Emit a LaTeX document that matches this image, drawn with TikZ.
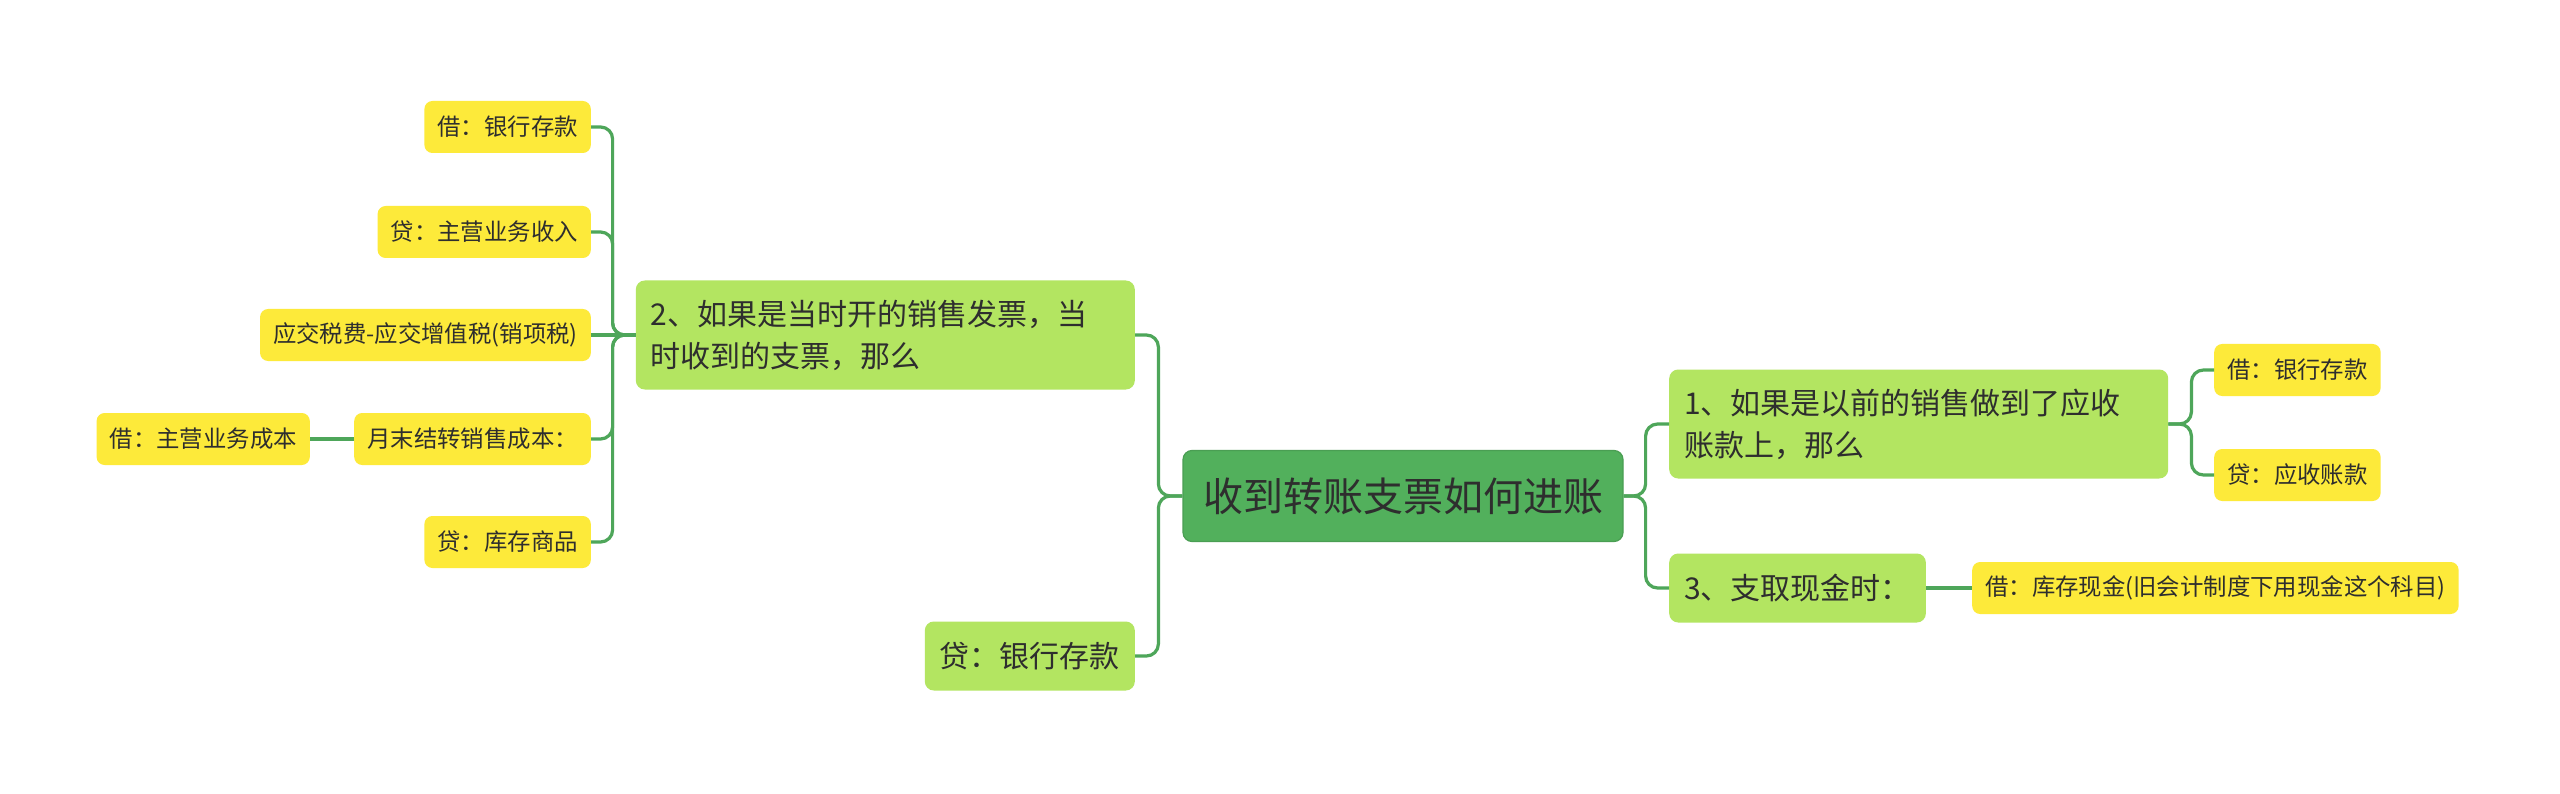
\documentclass[tikz,border=0pt]{standalone}
\usepackage{fontspec}
\setmainfont{Noto Sans CJK SC}
\definecolor{root}{HTML}{52B05C}
\definecolor{rootb}{HTML}{4A9E53}
\definecolor{lg}{HTML}{B3E561}
\definecolor{yl}{HTML}{FDEA3A}
\definecolor{ln}{HTML}{4EA65A}
\definecolor{tx}{HTML}{2E2E2E}
\begin{document}
\begin{tikzpicture}[x=1pt,y=-1pt,
 rootn/.style={draw=rootb, line width=1.2pt, fill=root, rounded corners=9pt, text=tx, font=\fontsize{40}{48}\selectfont, inner xsep=20pt, minimum height=91pt},
 lone/.style={fill=lg, rounded corners=9pt, text=tx, font=\fontsize{30}{42}\selectfont, inner xsep=15pt, inner ysep=0pt},
 ltwo/.style={fill=yl, rounded corners=8pt, text=tx, font=\fontsize{23.4}{28}\selectfont, inner xsep=13pt, inner ysep=0pt, minimum height=52pt},
 conn/.style={draw=ln, line width=3.2pt, rounded corners=12pt}]
\fill[white] (0,0) rectangle (2560,794);
\useasboundingbox (0,0) rectangle (2560,794);

\node[rootn] (root) at (1403,496) {收到转账支票如何进账};

\node[lone, anchor=east, text width=469pt, align=left, minimum height=109pt] (n2) at (1135,335) {2、如果是当时开的销售发票，当\\时收到的支票，那么};
\node[lone, anchor=east, minimum height=69pt] (n4) at (1135,656) {贷：银行存款};
\node[lone, anchor=west, text width=469pt, align=left, minimum height=109pt] (n1) at (1669,424) {1、如果是以前的销售做到了应收\\账款上，那么};
\node[lone, anchor=west, minimum height=69pt] (n3) at (1669,588) {3、支取现金时：};

\node[ltwo, anchor=east] (a1) at (591,127) {借：银行存款};
\node[ltwo, anchor=east] (a2) at (591,232) {贷：主营业务收入};
\node[ltwo, anchor=east] (a3) at (591,335) {应交税费-应交增值税(销项税)};
\node[ltwo, anchor=east] (a4) at (591,439) {月末结转销售成本：};
\node[ltwo, anchor=east] (a5) at (591,542) {贷：库存商品};
\node[ltwo, anchor=east] (a6) at (310,439) {借：主营业务成本};

\node[ltwo, anchor=west] (b1) at (2214,370) {借：银行存款};
\node[ltwo, anchor=west] (b2) at (2214,475) {贷：应收账款};
\node[ltwo, anchor=west] (c1) at (1972,588) {借：库存现金(旧会计制度下用现金这个科目)};

\draw[conn] (root.west) -- ++(-24,0) |- (n2.east);
\draw[conn] (root.west) -- ++(-24,0) |- (n4.east);
\draw[conn] (root.east) -- ++(22,0) |- (n1.west);
\draw[conn] (root.east) -- ++(22,0) |- (n3.west);

\draw[conn] (n2.west) -- ++(-23,0) |- (a1.east);
\draw[conn] (n2.west) -- ++(-23,0) |- (a2.east);
\draw[conn] (n2.west) -- (a3.east);
\draw[conn] (n2.west) -- ++(-23,0) |- (a4.east);
\draw[conn] (n2.west) -- ++(-23,0) |- (a5.east);
\draw[conn] (a4.west) -- (a6.east);

\draw[conn] (n1.east) -- ++(23,0) |- (b1.west);
\draw[conn] (n1.east) -- ++(23,0) |- (b2.west);
\draw[conn] (n3.east) -- (c1.west);
\end{tikzpicture}
\end{document}
